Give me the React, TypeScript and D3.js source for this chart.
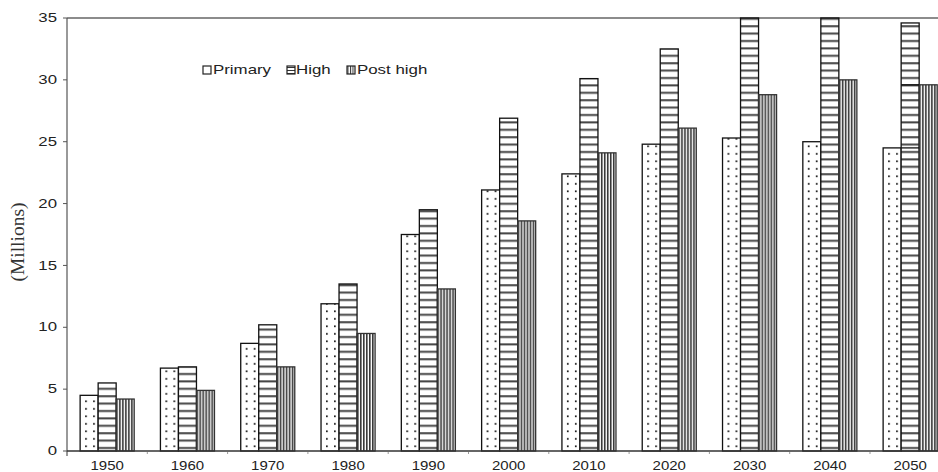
import React from "react";
import * as d3 from "d3";

const years = ["1950", "1960", "1970", "1980", "1990", "2000", "2010", "2020", "2030", "2040", "2050"];
const seriesNames = ["Primary", "High", "Post high"];
const primary = [4.5, 6.7, 8.7, 11.9, 17.5, 21.1, 22.4, 24.8, 25.3, 25.0, 24.5];
const high = [5.5, 6.8, 10.2, 13.5, 19.5, 26.9, 30.1, 32.5, 35.0, 35.0, 34.6];
const postHigh = [4.2, 4.9, 6.8, 9.5, 13.1, 18.6, 24.1, 26.1, 28.8, 30.0, 29.6];
const yTicks = [0, 5, 10, 15, 20, 25, 30, 35];

const W = 938;
const H = 472;
const left = 67;
const top = 18;
const bottom = 451;
const step = 80.3;

export default function App() {
  const series = [primary, high, postHigh];
  const patterns = ["pDots", "pHoriz", "pVert"];

  const x0 = d3
    .scaleBand<string>()
    .domain(years)
    .range([left, left + step * years.length])
    .paddingInner(0.327)
    .paddingOuter(0.1635);
  const x1 = d3.scaleBand<string>().domain(seriesNames).range([0, x0.bandwidth()]);
  const y = d3.scaleLinear().domain([0, 35]).range([bottom, top]);

  const sans = "'Liberation Sans', Arial, sans-serif";
  const serif = "'Liberation Serif', 'Times New Roman', serif";

  const lastIdx = years.length - 1;
  const lastX = (x0(years[lastIdx]) ?? 0) + (x1("High") ?? 0);

  return (
    <svg
      width={W}
      height={H}
      style={{ position: "fixed", left: 0, top: 0, background: "#fff" }}
    >
      <defs>
        <pattern id="pDots" width={8} height={7.5} patternUnits="userSpaceOnUse" x={0} y={0}>
          <rect width={8} height={7.5} fill="#fff" />
          <rect x={5} y={3} width={1.7} height={1.7} fill="#111" />
        </pattern>
        <pattern id="pHoriz" width={18} height={7.4} patternUnits="userSpaceOnUse">
          <rect width={18} height={7.4} fill="#fff" />
          <rect x={0} y={3} width={18} height={2} fill="#444" />
        </pattern>
        <pattern id="pVert" width={3} height={10} patternUnits="userSpaceOnUse">
          <rect width={3} height={10} fill="#fff" />
          <rect x={0} y={0} width={1.6} height={10} fill="#333" />
        </pattern>
        <pattern id="lHoriz" width={10} height={3} patternUnits="userSpaceOnUse">
          <rect width={10} height={3} fill="#fff" />
          <rect x={0} y={1} width={10} height={1} fill="#333" />
        </pattern>
        <pattern id="lVert" width={2.5} height={10} patternUnits="userSpaceOnUse">
          <rect width={2.5} height={10} fill="#fff" />
          <rect x={0} y={0} width={1} height={10} fill="#333" />
        </pattern>
      </defs>

      <line x1={left} x2={W} y1={top} y2={top} stroke="#666" strokeWidth={1.5} />

      {years.map((yr, i) => (
        <g key={yr} transform={`translate(${x0(yr)},0)`}>
          {seriesNames.map((s, j) => {
            const v = series[j][i];
            const bx = x1(s) ?? 0;
            const bw = x1.bandwidth();
            return (
              <rect
                key={s}
                x={bx}
                y={y(v)}
                width={bw}
                height={y(0) - y(v)}
                fill={`url(#${patterns[j]})`}
                stroke={j === 2 ? "#333" : "#111"}
                strokeWidth={1.3}
              />
            );
          })}
        </g>
      ))}

      {[postHigh[lastIdx], primary[lastIdx]].map((v, k) => (
        <line
          key={k}
          x1={lastX}
          x2={lastX + x1.bandwidth()}
          y1={y(v)}
          y2={y(v)}
          stroke="#111"
          strokeWidth={1.3}
        />
      ))}

      <line x1={left} x2={left} y1={top} y2={bottom} stroke="#555" strokeWidth={1.2} />
      {yTicks.map((t) => (
        <g key={t}>
          <line x1={left - 4} x2={left} y1={y(t)} y2={y(t)} stroke="#555" strokeWidth={1} />
          <text
            transform={`translate(57,${y(t)}) scale(1.4,1)`}
            dy="0.35em"
            textAnchor="end"
            fontFamily={sans}
            fontSize={12}
            fill="#222"
          >
            {t}
          </text>
        </g>
      ))}

      <line x1={left} x2={W} y1={bottom} y2={bottom} stroke="#333" strokeWidth={1.3} />
      <line x1={left} x2={left} y1={bottom} y2={bottom + 5} stroke="#333" strokeWidth={1} />
      {years.map((yr, i) =>
        i === 0 ? null : (
          <line
            key={"t" + yr}
            x1={left + step * i}
            x2={left + step * i}
            y1={bottom + 1}
            y2={bottom + 3}
            stroke="#999"
            strokeWidth={1}
          />
        )
      )}
      {years.map((yr) => (
        <text
          key={"l" + yr}
          transform={`translate(${(x0(yr) ?? 0) + x0.bandwidth() / 2},470) scale(1.2,1)`}
          textAnchor="middle"
          fontFamily={sans}
          fontSize={12.5}
          fill="#222"
        >
          {yr}
        </text>
      ))}

      <text
        transform={`translate(24,${242}) rotate(-90)`}
        textAnchor="middle"
        fontFamily={serif}
        fontSize={19.5}
        fill="#333"
      >
        (Millions)
      </text>

      {[
        { name: "Primary", pat: "#fff", bx: 203, tx: 213 },
        { name: "High", pat: "url(#lHoriz)", bx: 287, tx: 296 },
        { name: "Post high", pat: "url(#lVert)", bx: 347, tx: 357 },
      ].map((l) => (
        <g key={l.name}>
          <rect x={l.bx} y={66} width={8} height={8} fill={l.pat} stroke="#222" strokeWidth={1.2} />
          <text
            transform={`translate(${l.tx},70) scale(1.35,1)`}
            dy="0.35em"
            fontFamily={sans}
            fontSize={12.5}
            fill="#222"
          >
            {l.name}
          </text>
        </g>
      ))}
    </svg>
  );
}
